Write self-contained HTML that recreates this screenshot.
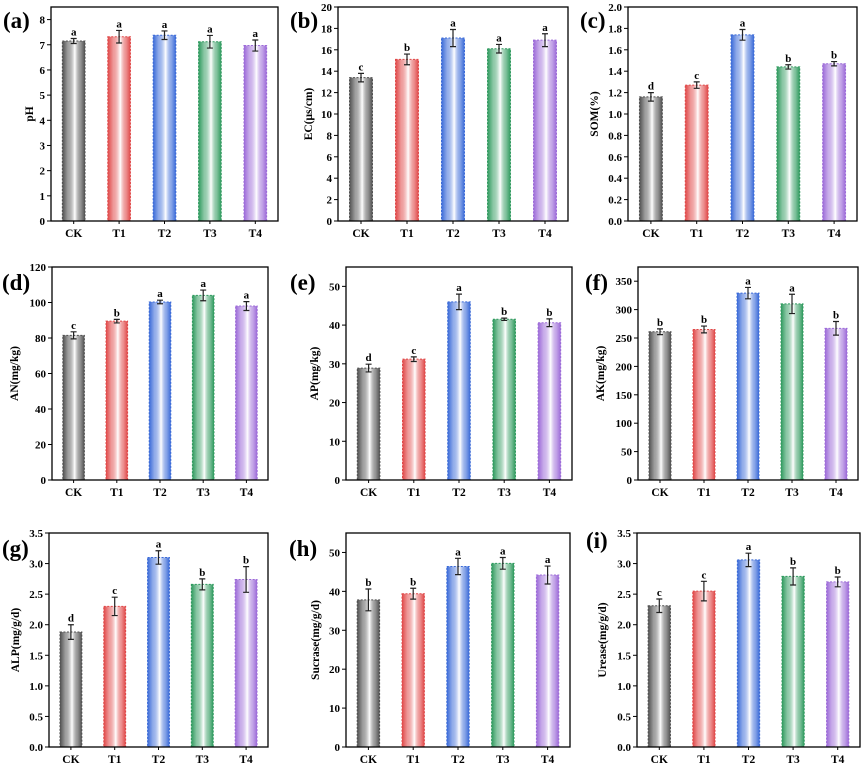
<!DOCTYPE html>
<html><head><meta charset="utf-8">
<style>
html,body{margin:0;padding:0;background:#fff;}
svg{display:block;font-family:"Liberation Serif",serif;font-weight:bold;}
</style></head>
<body>
<svg id="fig" width="865" height="767" viewBox="0 0 865 767" xmlns="http://www.w3.org/2000/svg">
<defs id="defs"></defs>
</svg>
<script>
const categories = ["CK","T1","T2","T3","T4"];
const colors = ["#505050","#e04848","#3a6ad8","#2f9a5e","#9c6ad8"];
const phVals = [7.15,7.32,7.38,7.12,6.97];
const phErr = [0.1,0.25,0.17,0.25,0.22];
const phSig = ["a","a","a","a","a"];
const ecVals = [13.4,15.1,17.1,16.1,16.9];
const ecErr = [0.4,0.5,0.8,0.4,0.6];
const ecSig = ["c","b","a","a","a"];
const somVals = [1.16,1.27,1.74,1.44,1.47];
const somErr = [0.04,0.03,0.05,0.02,0.02];
const somSig = ["d","c","a","b","b"];
const anVals = [81.5,89.5,100.3,104,98];
const anErr = [2,1,1,3,2.5];
const anSig = ["c","b","a","a","a"];
const apVals = [28.9,31.2,46,41.5,40.6];
const apErr = [1,0.6,2,0.3,1];
const apSig = ["d","c","a","b","b"];
const akVals = [261,265,329,310,267];
const akErr = [5,6,10,17,12];
const akSig = ["b","b","a","a","b"];
const alpVals = [1.88,2.3,3.1,2.66,2.74];
const alpErr = [0.12,0.15,0.11,0.09,0.21];
const alpSig = ["d","c","a","b","b"];
const sucVals = [37.8,39.4,46.4,47.2,44.2];
const sucErr = [2.8,1.4,2.1,1.5,2.3];
const sucSig = ["b","b","a","a","a"];
const ureVals = [2.31,2.55,3.06,2.79,2.70];
const ureErr = [0.11,0.16,0.11,0.14,0.08];
const ureSig = ["c","c","a","b","b"];

const panels = [
 {id:"a",title:"pH",vals:phVals,err:phErr,sig:phSig,max:8.5,step:1,dec:0,box:[51,278,7,221],lab:[3,28],tx:33},
 {id:"b",title:"EC(μs/cm)",vals:ecVals,err:ecErr,sig:ecSig,max:20,step:2,dec:0,box:[338,568,7,221],lab:[290,28],tx:312},
 {id:"c",title:"SOM(%)",vals:somVals,err:somErr,sig:somSig,max:2.0,step:0.2,dec:1,box:[628,857,7,221],lab:[580,28],tx:598},
 {id:"d",title:"AN(mg/kg)",vals:anVals,err:anErr,sig:anSig,max:120,step:20,dec:0,box:[52,268,267,480],lab:[2,290],tx:18},
 {id:"e",title:"AP(mg/kg)",vals:apVals,err:apErr,sig:apSig,max:55,step:10,dec:0,box:[346,572,267,480],lab:[290,290],tx:318},
 {id:"f",title:"AK(mg/kg)",vals:akVals,err:akErr,sig:akSig,max:375,step:50,dec:0,box:[638,858,267,480],lab:[585,290],tx:604},
 {id:"g",title:"ALP(mg/g/d)",vals:alpVals,err:alpErr,sig:alpSig,max:3.5,step:0.5,dec:1,box:[49,268,533,747],lab:[2,556],tx:19},
 {id:"h",title:"Sucrase(mg/g/d)",vals:sucVals,err:sucErr,sig:sucSig,max:55,step:10,dec:0,box:[346,570,533,747],lab:[289,556],tx:319},
 {id:"i",title:"Urease(mg/g/d)",vals:ureVals,err:ureErr,sig:ureSig,max:3.5,step:0.5,dec:1,box:[637,860,533,747],lab:[586,548],tx:606}
];

const NS="http://www.w3.org/2000/svg";
const svg=document.getElementById("fig");
const defs=document.getElementById("defs");
function mk(tag,attrs,parent){const e=document.createElementNS(NS,tag);for(const k in attrs)e.setAttribute(k,attrs[k]);(parent||svg).appendChild(e);return e;}

colors.forEach((c,i)=>{
  const g=mk("linearGradient",{id:"grad"+i,x1:"0",x2:"1",y1:"0",y2:"0"},defs);
  mk("stop",{offset:"0",  "stop-color":c},g);
  mk("stop",{offset:"0.25","stop-color":c,"stop-opacity":"0.55"},g);
  mk("stop",{offset:"0.55","stop-color":"#ffffff"},g);
  mk("stop",{offset:"0.8","stop-color":c,"stop-opacity":"0.6"},g);
  mk("stop",{offset:"1","stop-color":c},g);
});

panels.forEach(p=>{
  const [L,R,T,B]=p.box;
  const W=R-L;
  const g=mk("g",{});
  
  
  const y=v=>B-(v/p.max)*(B-T);
  const x=i=>L+W*(0.1+0.2*i);
  const lab=mk("text",{x:p.lab[0],y:p.lab[1],"font-size":"23"},g);
  lab.textContent="("+p.id+")";
  
  
  p.vals.forEach((v,i)=>{
    const bw=W*0.1;
    const bar=mk("rect",{x:x(i)-bw/2,y:y(v),width:bw,height:B-y(v),fill:"url(#grad"+i+")",stroke:colors[i],"stroke-width":"1","stroke-dasharray":"2,1.5"},g);
    
    
    const e=p.err[i];
    const eb=mk("path",{d:`M${x(i)} ${y(v+e)}V${y(v-e)}M${x(i)-3} ${y(v+e)}H${x(i)+3}M${x(i)-3} ${y(v-e)}H${x(i)+3}`,stroke:"#222","stroke-width":"1.2",fill:"none"},g);
    
    
    const s=mk("text",{x:x(i),y:y(v+e)-3,"font-size":"11","text-anchor":"middle"},g);
    s.textContent=p.sig[i];
    
    
    const t=mk("text",{x:x(i),y:B+16,"font-size":"11.5","text-anchor":"middle"},g);
    t.textContent=categories[i];
    
    
    mk("line",{x1:x(i),x2:x(i),y1:B,y2:B+3,stroke:"#000","stroke-width":"1"},g);
  });
  const n=Math.floor(p.max/p.step+1e-9);
  for(let k=0;k<=n;k++){
    const v=k*p.step;
    mk("line",{x1:L-4,x2:L,y1:y(v),y2:y(v),stroke:"#000","stroke-width":"1"},g);
    const t=mk("text",{x:L-6,y:y(v)+4,"font-size":"11","text-anchor":"end"},g);
    t.textContent=v.toFixed(p.dec);
    
    
  }
  const box=mk("rect",{x:L,y:T,width:W,height:B-T,fill:"none",stroke:"#000","stroke-width":"1.3"},g);
  
  
  const yt=mk("text",{x:p.tx,y:(T+B)/2,"font-size":"11.5","text-anchor":"middle",transform:`rotate(-90 ${p.tx} ${(T+B)/2})`},g);
  yt.textContent=p.title;
  
  
});
</script>
</body></html>
